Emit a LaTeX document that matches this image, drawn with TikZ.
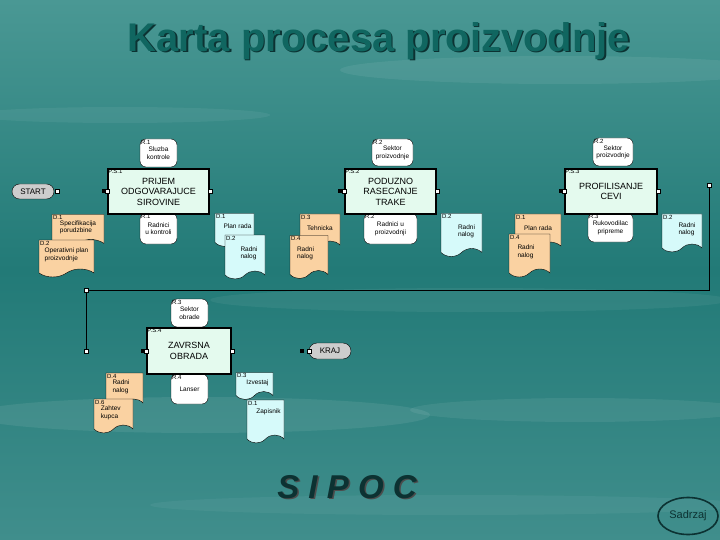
\documentclass[tikz,border=0pt]{standalone}
\usepackage{fontspec}
\setmainfont{Liberation Sans}
\usetikzlibrary{shapes.misc,shapes.symbols,shapes.geometric}

\definecolor{bgtop}{RGB}{74,152,148}
\definecolor{bgmid}{RGB}{34,122,119}
\definecolor{bgbot}{RGB}{64,142,140}
\definecolor{titlecol}{RGB}{16,102,96}
\definecolor{darkcol}{RGB}{12,50,50}
\definecolor{docorange}{RGB}{250,210,162}
\definecolor{doccyan}{RGB}{214,250,250}
\definecolor{procfill}{RGB}{228,250,238}
\definecolor{pillgray}{RGB}{205,205,205}

\begin{document}
\begin{tikzpicture}[
		x=1pt,y=-1pt,
		smalltext/.style={font=\fontsize{6.5}{7.5}\selectfont},
		ident/.style={anchor=north west,inner sep=1pt,font=\fontsize{6}{6}\selectfont},
		proc/.style={draw,line width=1.5pt,fill=procfill,align=center,
			font=\fontsize{9}{10.5}\selectfont},
		res/.style={draw,fill=white,rounded corners=6pt,align=center,smalltext},
		docu/.style={tape,tape bend top=none,tape bend bottom=in and out,
			tape bend height=8pt,draw,align=left,smalltext,inner sep=2pt},
		orangedoc/.style={docu,fill=docorange},
		cyandoc/.style={docu,fill=doccyan},
		pill/.style={rounded rectangle,draw,fill=pillgray,
			font=\fontsize{8}{8}\selectfont,inner sep=1pt},
		portin/.style={fill=black,minimum size=4pt,inner sep=0pt},
		portout/.style={draw,fill=white,minimum size=4pt,inner sep=0pt}
		]
		\useasboundingbox (0,0) rectangle (720,540);
		\fill[top color=bgtop,bottom color=bgbot,middle color=bgmid] (0,0) rectangle (720,540);
		\fill[white,opacity=0.07] (560,70) ellipse (220 and 14);
		\fill[white,opacity=0.06] (120,115) ellipse (150 and 8);
		\fill[white,opacity=0.06] (470,300) ellipse (260 and 12);
		\fill[white,opacity=0.08] (200,415) ellipse (230 and 18);
		\fill[white,opacity=0.07] (580,410) ellipse (170 and 12);
		\fill[white,opacity=0.05] (450,505) ellipse (300 and 10);

		\node[anchor=base,text=darkcol,font=\fontsize{40}{40}\selectfont\bfseries] at (380.5,53) {Karta procesa proizvodnje};
		\node[anchor=base,text=titlecol,font=\fontsize{40}{40}\selectfont\bfseries] (title) at (379,52) {Karta procesa proizvodnje};

		\node[pill,minimum width=44pt,minimum height=15pt] (start) at (33,191.5) {START};
		\node[portout] (starto) at (57,191.5) {};

		\node[res,minimum width=37pt,minimum height=28pt,label={[ident]north west:R.1}] (r1a) at (158.5,153) {\\[-2pt]Sluzba\\kontrole};
		\node[res,minimum width=37pt,minimum height=31pt,label={[ident]north west:R.1}] (r1b) at (158.5,228.5) {\\[-2pt]Radnici\\u kontroli};
		\node[orangedoc,minimum width=52pt,minimum height=33pt,label={[ident]north west:D.1}] (d1a) at (78,227) {\\[-2pt]Specifikacija\\porudzbine};
		\node[orangedoc,minimum width=55pt,minimum height=37pt,label={[ident]north west:D.2}] (d2a) at (66.5,254.5) {\\[-2pt]Operativni plan\\proizvodnje};
		\node[proc,minimum width=101pt,minimum height=45pt,label={[ident]north west:P.S.1}] (ps1) at (158.5,191.5) {PRIJEM\\ODGOVARAJUCE\\SIROVINE};
		\node[portin] (ps1b) at (104,191.5) {};
		\node[portout] (ps1i) at (ps1.west) {};
		\node[portout] (ps1o) at (ps1.east) {};

		\node[cyandoc,minimum width=39pt,minimum height=33pt,label={[ident]north west:D.1}] (d1b) at (234.5,226) {\\[-2pt]\hspace*{6pt}Plan rada};
		\node[cyandoc,minimum width=40pt,minimum height=44pt,label={[ident]north west:D.2}] (d2b) at (245,253) {\\[-2pt]\hspace*{8pt}Radni\\\hspace*{8pt}nalog};
		\node[orangedoc,minimum width=40pt,minimum height=35pt,label={[ident]north west:D.3}] (d3b) at (320,227.5) {\\[-2pt]Tehnicka};
		\node[orangedoc,minimum width=38pt,minimum height=43pt,label={[ident]north west:D.4}] (d4b) at (309,253) {\\[-2pt]Radni\\nalog\hspace*{8pt}};

		\node[res,minimum width=41pt,minimum height=27pt,label={[ident]north west:R.2}] (r2a) at (392.5,152.5) {\\[-2pt]Sektor\\proizvodnje};
		\node[res,minimum width=53pt,minimum height=31pt,label={[ident]north west:R.2}] (r2b) at (390.5,228.5) {\\[-2pt]Radnici u\\proizvodnji};
		\node[proc,minimum width=91pt,minimum height=45pt,label={[ident]north west:P.S.2}] (ps2) at (390.5,191.5) {PODUZNO\\RASECANJE\\TRAKE};
		\node[portin] (ps2b) at (340,191.5) {};
		\node[portout] (ps2i) at (ps2.west) {};
		\node[portout] (ps2o) at (ps2.east) {};
		\node[cyandoc,minimum width=41pt,minimum height=43pt,label={[ident]north west:D.2}] (d2c) at (461.5,231) {\\[-2pt]\hspace*{10pt}Radni\\\hspace*{10pt}nalog};
		\node[orangedoc,minimum width=46pt,minimum height=36pt,label={[ident]north west:D.1}] (d1c) at (538,228) {\\[-2pt]Plan rada};
		\node[orangedoc,minimum width=41pt,minimum height=43pt,label={[ident]north west:D.4}] (d4c) at (529.5,251.5) {\\[-2pt]Radni\\nalog\hspace*{8pt}};

		\node[res,minimum width=40pt,minimum height=28pt,label={[ident]north west:R.2}] (r2c) at (613,152) {\\[-2pt]Sektor\\proizvodnje};
		\node[res,minimum width=45pt,minimum height=29pt,label={[ident]north west:R.3}] (r3a) at (610.5,227.5) {\\[-2pt]Rukovodilac\\pripreme};
		\node[proc,minimum width=92pt,minimum height=45pt,label={[ident]north west:P.S.3}] (ps3) at (611,191.5) {PROFILISANJE\\CEVI};
		\node[portin] (ps3b) at (561,191.5) {};
		\node[portout] (ps3i) at (ps3.west) {};
		\node[portout] (ps3o) at (ps3.east) {};
		\node[cyandoc,minimum width=40pt,minimum height=38pt,label={[ident]north west:D.2}] (d2d) at (682,229) {\\[-2pt]\hspace*{10pt}Radni\\\hspace*{10pt}nalog};

		\node[portout] (loopa) at (709,185) {};
		\coordinate (loopb) at (709,290);
		\node[portout] (loopc) at (86,290) {};
		\node[portout] (loopd) at (86,351) {};
		\draw[line width=0.8pt] (loopa) -- (loopb) -- (loopc) -- (loopd);

		\node[res,minimum width=37pt,minimum height=28pt,label={[ident]north west:R.3}] (r3b) at (189.5,313) {\\[-2pt]Sektor\\obrade};
		\node[res,minimum width=37pt,minimum height=30pt,label={[ident]north west:R.4}] (r4) at (189.5,389) {\\[-2pt]Lanser};
		\node[proc,minimum width=84pt,minimum height=46pt,label={[ident]north west:P.S.4}] (ps4) at (189,351) {ZAVRSNA\\OBRADA};
		\node[portin] (ps4b) at (143,351) {};
		\node[portout] (ps4i) at (ps4.west) {};
		\node[portout] (ps4o) at (ps4.east) {};
		\node[orangedoc,minimum width=37pt,minimum height=34pt,label={[ident]north west:D.4}] (d4e) at (124.5,386) {\\[-1pt]Radni\\nalog\hspace*{8pt}};
		\node[orangedoc,minimum width=39pt,minimum height=34pt,label={[ident]north west:D.6}] (d6) at (113.5,412) {\\[-1pt]Zahtev\\kupca\hspace*{8pt}};
		\node[cyandoc,minimum width=37pt,minimum height=27pt,label={[ident]north west:D.3}] (d3e) at (254.5,382) {\\[-2pt]\hspace*{6pt}Izvestaj};
		\node[cyandoc,minimum width=37pt,minimum height=43pt,label={[ident]north west:D.1}] (d1e) at (265.5,417.5) {\\[-2pt]\hspace*{6pt}Zapisnik\\[6pt]};

		\node[pill,minimum width=44pt,minimum height=16pt] (kraj) at (330,351) {KRAJ};
		\node[portin] (krajb) at (302,351) {};
		\node[portout] (kraji) at (kraj.west) {};

		\node[text=black!70,font=\fontsize{33}{33}\selectfont\bfseries\itshape] at (348.5,488.5) {S I P O C};
		\node[text=darkcol,font=\fontsize{33}{33}\selectfont\bfseries\itshape] (sipoc) at (347,487) {S I P O C};

		\node[ellipse,draw=darkcol,line width=1.6pt,minimum width=60pt,minimum height=37pt,inner sep=0pt,
			text=darkcol,font=\fontsize{11}{11}\selectfont] (sadrzaj) at (688,516) {Sadrzaj};
		\end{tikzpicture}
\end{document}
